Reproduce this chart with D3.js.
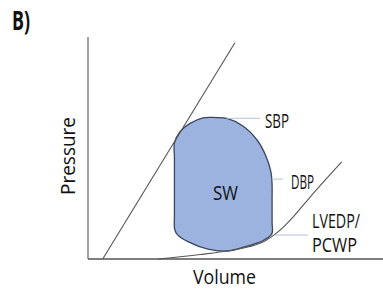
<!DOCTYPE html>
<html>
<head>
<meta charset="utf-8">
<script src="https://cdn.jsdelivr.net/npm/d3@7"></script>
<style>
  body { margin: 0; background: #fff; }
  text { font-family: "Open Sans", "Liberation Sans", sans-serif; fill: #111; }
</style>
</head>
<body>
<div id="chart"></div>
<script>
// pressure-volume loop, values in arbitrary units (0-100)
var espvrVolume = [5.0, 49.8];
var espvrPressure = [0, 97.4];

var edpvrVolume = [23.7, 38.0, 48.1, 54.9, 60.0, 64.4, 69.5, 75.3, 86.0];
var edpvrPressure = [0, 2.0, 3.8, 5.6, 8.1, 12.2, 18.9, 27.9, 43.7];

var loopVolume = [29.4, 29.3, 29.3, 29.3, 29.3, 29.3, 29.3, 31.2, 34.6, 39.0, 43.4, 47.1, 52.5, 57.3, 60.3, 62.0, 62.4, 62.4, 62.4, 62.4, 62.3, 59.0, 54.2, 47.5, 40.7, 33.9, 30.3];
var loopPressure = [13.3, 20.0, 27.0, 33.3, 40.0, 46.0, 52.3, 57.4, 61.1, 63.6, 63.7, 63.3, 59.9, 53.6, 46.4, 39.2, 33.3, 27.5, 22.1, 16.5, 11.3, 8.1, 5.9, 3.6, 4.4, 7.8, 11.0];

var labelText = ["SBP", "DBP", "LVEDP/", "PCWP", "SW"];
var axisTitles = ["Volume", "Pressure"];
var panelTag = "B)";

var width = 383, height = 292;

var svg = d3.select("#chart").append("svg")
  .attr("width", width)
  .attr("height", height);

var x = d3.scaleLinear().domain([0, 100]).range([88, 383]);
var y = d3.scaleLinear().domain([0, 100]).range([259, 37]);

var line = d3.line()
  .x(function(d) { return x(d[0]); })
  .y(function(d) { return y(d[1]); });

// axes
svg.append("line")
  .attr("x1", x(0)).attr("y1", y(0))
  .attr("x2", x(0)).attr("y2", y(100))
  .attr("stroke", "#666").attr("stroke-width", 1.2);
svg.append("line")
  .attr("x1", x(0)).attr("y1", y(0))
  .attr("x2", x(100)).attr("y2", y(0))
  .attr("stroke", "#555").attr("stroke-width", 1.4);

// loop
var loopPts = loopVolume.map(function(v, i) { return [v, loopPressure[i]]; });
svg.append("path")
  .attr("d", line.curve(d3.curveCatmullRomClosed.alpha(0.5))(loopPts))
  .attr("fill", "#9db3df")
  .attr("stroke", "#3b4560")
  .attr("stroke-width", 1.3);

// ESPVR
var espvr = espvrVolume.map(function(v, i) { return [v, espvrPressure[i]]; });
svg.append("path")
  .attr("d", line.curve(d3.curveLinear)(espvr))
  .attr("fill", "none").attr("stroke", "#555").attr("stroke-width", 1.1);

// EDPVR
var edpvr = edpvrVolume.map(function(v, i) { return [v, edpvrPressure[i]]; });
svg.append("path")
  .attr("d", line.curve(d3.curveMonotoneX)(edpvr))
  .attr("fill", "none").attr("stroke", "#555").attr("stroke-width", 1.1);

// leader lines
var leaders = [[47.0, 58.3, 63.4], [62.3, 66.1, 36.0], [63.4, 74.6, 10.8]];
leaders.forEach(function(l) {
  svg.append("line")
    .attr("x1", x(l[0])).attr("x2", x(l[1]))
    .attr("y1", y(l[2])).attr("y2", y(l[2]))
    .attr("stroke", "#b3c1dd").attr("stroke-width", 1);
});

function label(t, px, py, len, size) {
  return svg.append("text")
    .attr("x", px).attr("y", py)
    .attr("font-size", size)
    .attr("textLength", len)
    .attr("lengthAdjust", "spacingAndGlyphs")
    .text(t);
}

label(labelText[0], 265, 127.5, 24, 20.5);
label(labelText[1], 291, 188.5, 23, 19.5);
label(labelText[2], 312, 227.5, 48, 20);
label(labelText[3], 312, 252, 45, 20);
label(labelText[4], 213, 200, 25, 20);

label(axisTitles[0], 193, 284, 63, 20.5);
svg.append("text")
  .attr("transform", "translate(75,195) rotate(-90)")
  .attr("font-size", 20.5)
  .attr("textLength", 78)
  .attr("lengthAdjust", "spacingAndGlyphs")
  .text(axisTitles[1]);

svg.append("text")
  .attr("x", 12).attr("y", 30)
  .attr("font-size", 26)
  .attr("font-weight", "bold")
  .attr("textLength", 18)
  .attr("lengthAdjust", "spacingAndGlyphs")
  .text(panelTag);
</script>
</body>
</html>
